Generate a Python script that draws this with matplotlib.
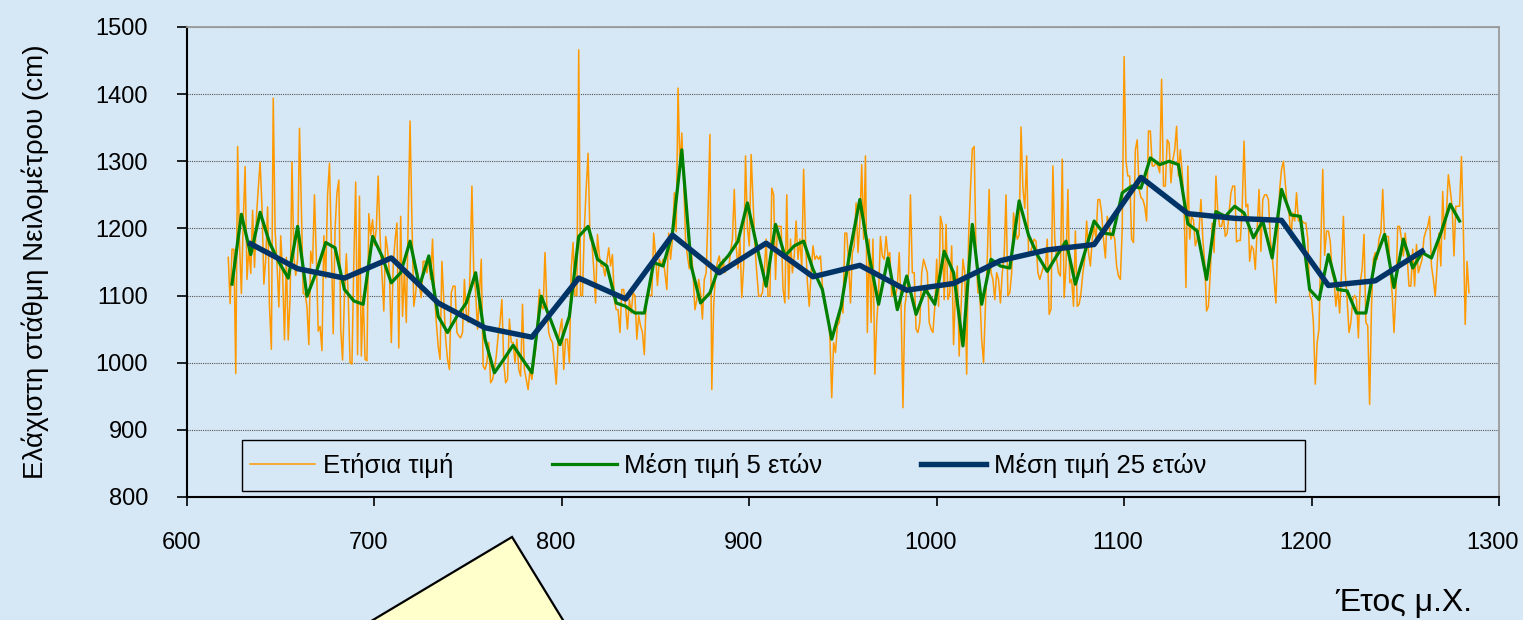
import numpy as np
import matplotlib
matplotlib.use('Agg')
import matplotlib.pyplot as plt
import matplotlib.transforms as mtransforms
from matplotlib.patches import Polygon, Rectangle

plt.rcParams['font.family'] = ['Liberation Sans', 'DejaVu Sans']

# annual minimum level of the Nile at Roda, 622-1284 (cm)
annual = [
    1157, 1088, 1169, 1169, 984, 1322, 1178, 1103,                      # 622-629
    1211, 1292, 1124, 1171, 1133, 1227, 1142, 1216, 1259, 1299,         # 630s
    1232, 1117, 1155, 1232, 1083, 1020, 1394, 1196, 1148, 1083,         # 640s
    1189, 1133, 1034, 1157, 1034, 1097, 1299, 1157, 1130, 1155,         # 650s
    1349, 1232, 1103, 1103, 1083, 1027, 1166, 1148, 1250, 1155,         # 660s
    1047, 1054, 1018, 1189, 1126, 1250, 1297, 1178, 1043, 1200,         # 670s
    1253, 1272, 1050, 1004, 1100, 1162, 1100, 1000, 998, 1150,          # 680s
    1269, 1012, 1248, 1010, 1100, 1005, 1003, 1222, 1190, 1213,         # 690s
    1175, 1200, 1278, 1188, 1134, 1077, 1188, 1169, 1134, 1030,         # 700s
    1144, 1183, 1208, 1022, 1218, 1069, 1139, 1060, 1213, 1360,         # 710s
    1213, 1084, 1104, 1134, 1114, 1097, 1151, 1151, 1134, 1156,         # 720s
    1124, 1184, 1104, 1060, 1025, 1005, 1151, 1094, 1035, 1005,         # 730s
    990, 1104, 1114, 1114, 1045, 1040, 1037, 1045, 1124, 1074,          # 740s
    1060, 1134, 1263, 1134, 1104, 1050, 1100, 1154, 995, 990,           # 750s
    1000, 1030, 970, 975, 990, 1010, 1040, 1060, 1094, 1000,            # 760s
    970, 975, 1065, 1030, 1030, 1000, 1035, 990, 980, 1087,             # 770s
    990, 975, 960, 990, 975, 1000, 1020, 1060, 1109, 1085,              # 780s
    1080, 1164, 1085, 1045, 1035, 1030, 1000, 968, 1030, 1050,          # 790s
    1065, 990, 1035, 1035, 1000, 1140, 1179, 1100, 1100, 1466,          # 800s
    1100, 1100, 1200, 1260, 1312, 1185, 1180, 1140, 1089, 1191,         # 810s
    1159, 1144, 1144, 1129, 1150, 1171, 1144, 1161, 1094, 1079,         # 820s
    1079, 1045, 1109, 1109, 1084, 1050, 1094, 1074, 1104, 1100,         # 830s
    1035, 1070, 1055, 1045, 1012, 1094, 1104, 1100, 1100, 1193,         # 840s
    1159, 1115, 1154, 1144, 1154, 1134, 1109, 1193, 1154, 1184,         # 850s
    1253, 1195, 1409, 1290, 1342, 1270, 1184, 1159, 1140, 1170,         # 860s
    1134, 1079, 1094, 1124, 1104, 1065, 1124, 1134, 1223, 1340,         # 870s
    960, 1084, 1134, 1149, 1159, 1134, 1154, 1134, 1144, 1140,          # 880s
    1165, 1184, 1258, 1174, 1140, 1184, 1097, 1144, 1308, 1200,         # 890s
    1174, 1310, 1240, 1174, 1134, 1099, 1099, 1104, 1134, 1184,         # 900s
    1099, 1099, 1260, 1250, 1124, 1203, 1203, 1203, 1110, 1089,         # 910s
    1250, 1095, 1184, 1134, 1159, 1211, 1154, 1184, 1140, 1288,         # 920s
    1184, 1120, 1084, 1134, 1174, 1154, 1159, 1154, 1159, 1115,         # 930s
    1090, 1075, 1070, 1040, 948, 1030, 1015, 1055, 1060, 1090,          # 940s
    1074, 1193, 1193, 1150, 1089, 1164, 1174, 1238, 1164, 1209,         # 950s
    1295, 1184, 1308, 1045, 1184, 1060, 1184, 983, 1060, 1104,          # 960s
    1188, 1159, 1154, 1188, 1159, 1164, 1099, 1114, 1099, 1114,         # 970s
    1164, 1084, 933, 1084, 1104, 1134, 1250, 1134, 1134, 1050,          # 980s
    1045, 1060, 1134, 1154, 1144, 1134, 1060, 1050, 1045, 1084,         # 990s
    1154, 1084, 1218, 1205, 1094, 1206, 1094, 1104, 1174, 1027,         # 1000s
    1104, 1144, 1010, 1084, 1154, 1134, 983, 1184, 1258, 1318,          # 1010s
    1322, 1160, 1104, 1104, 1035, 1000, 1084, 1154, 1258, 1134,         # 1020s
    1124, 1094, 1134, 1124, 1089, 1134, 1159, 1250, 1100, 1104,         # 1030s
    1134, 1223, 1199, 1184, 1190, 1351, 1260, 1230, 1308, 1164,         # 1040s
    1164, 1174, 1184, 1181, 1134, 1124, 1134, 1144, 1139, 1184,         # 1050s
    1072, 1080, 1293, 1184, 1154, 1134, 1129, 1303, 1097, 1144,         # 1060s
    1258, 1119, 1124, 1084, 1196, 1084, 1087, 1104, 1134, 1154,         # 1070s
    1211, 1164, 1144, 1184, 1203, 1184, 1243, 1243, 1223, 1184,         # 1080s
    1156, 1218, 1203, 1184, 1194, 1184, 1144, 1129, 1124, 1200,         # 1090s
    1456, 1300, 1278, 1278, 1184, 1179, 1317, 1332, 1258, 1246,         # 1100s
    1243, 1233, 1211, 1345, 1345, 1293, 1293, 1298, 1293, 1283,         # 1110s
    1422, 1263, 1263, 1332, 1327, 1268, 1302, 1317, 1352, 1278,         # 1120s
    1317, 1283, 1233, 1112, 1293, 1184, 1218, 1213, 1174, 1184,         # 1130s
    1198, 1243, 1184, 1150, 1077, 1084, 1134, 1208, 1164, 1278,         # 1140s
    1223, 1203, 1203, 1218, 1188, 1193, 1223, 1253, 1263, 1263,         # 1150s
    1180, 1182, 1182, 1230, 1330, 1232, 1236, 1151, 1174, 1169,         # 1160s
    1139, 1200, 1258, 1166, 1243, 1250, 1250, 1243, 1184, 1159,         # 1170s
    1126, 1089, 1184, 1258, 1288, 1300, 1268, 1233, 1223, 1186,         # 1180s
    1223, 1211, 1253, 1211, 1213, 1211, 1208, 1208, 1184, 1100,         # 1190s
    1094, 1060, 968, 1030, 1050, 1180, 1288, 1160, 1196, 1196,          # 1200s
    1180, 1134, 1124, 1084, 1110, 1074, 1134, 1218, 1134, 1094,         # 1210s
    1045, 1060, 1094, 1100, 1094, 1037, 1120, 1139, 1191, 1060,         # 1220s
    1055, 938, 1084, 1154, 1164, 1154, 1184, 1194, 1258, 1184,          # 1230s
    1188, 1188, 1134, 1104, 1045, 1104, 1203, 1203, 1184, 1159,         # 1240s
    1193, 1159, 1114, 1114, 1169, 1114, 1176, 1134, 1144, 1154,         # 1250s
    1186, 1196, 1203, 1218, 1144, 1124, 1099, 1144, 1193, 1144,         # 1260s
    1255, 1184, 1223, 1280, 1258, 1233, 1159, 1233, 1233, 1233,         # 1270s
    1307, 1200, 1057, 1151, 1104,                                       # 1280-1284
]
years = np.arange(622, 622 + len(annual))

# 5-year means, plotted at block centres 624, 629, ... 1279
mean5 = [
    1117, 1221, 1161, 1224, 1179, 1150, 1126, 1203, 1099, 1135,
    1179, 1171, 1109, 1092, 1087, 1188, 1159, 1119, 1134, 1181,
    1114, 1159, 1069, 1045, 1069, 1089, 1134, 1035, 985, 1005,
    1026, 1005, 985, 1099, 1064, 1027, 1069, 1188, 1203, 1154,
    1144, 1089, 1084, 1074, 1074, 1149, 1144, 1193, 1317, 1144,
    1089, 1104, 1144, 1160, 1181, 1238, 1174, 1114, 1206, 1159,
    1174, 1181, 1139, 1109, 1035, 1084, 1170, 1243, 1159, 1087,
    1156, 1079, 1129, 1072, 1109, 1087, 1166, 1134, 1025, 1206,
    1087, 1154, 1144, 1141, 1241, 1190, 1159, 1136, 1159, 1181,
    1117, 1164, 1211, 1193, 1191, 1253, 1263, 1260, 1305, 1295,
    1300, 1295, 1207, 1196, 1124, 1225, 1218, 1233, 1223, 1186,
    1211, 1156, 1258, 1220, 1218, 1109, 1094, 1161, 1109, 1107,
    1074, 1074, 1154, 1191, 1112, 1184, 1141, 1164, 1156, 1193,
    1236, 1211,
]
years5 = np.arange(624, 624 + 5 * len(mean5), 5)

# 25-year means, centres 634, 659, ... 1259
mean25 = [
    1177, 1140, 1126, 1156, 1089, 1052, 1038, 1126, 1095, 1190,
    1134, 1178, 1128, 1145, 1108, 1118, 1152, 1168, 1176, 1276,
    1222, 1215, 1212, 1115, 1122, 1166,
]
years25 = np.arange(634, 634 + 25 * len(mean25), 25)

labels = ['Ετήσια τιμή', 'Μέση τιμή 5 ετών', 'Μέση τιμή 25 ετών']

bg = '#D6E7F5'
fig = plt.figure(figsize=(15.23, 6.2), dpi=100, facecolor=bg)
ax = fig.add_axes([0.1228, 0.1984, 0.8614, 0.7581])
ax.set_facecolor(bg)

ax.plot(years, annual, color='#FF9900', lw=1.1, label=labels[0], zorder=3)
ax.plot(years5, mean5, color='#008000', lw=2.3, label=labels[1], zorder=4)
ax.plot(years25, mean25, color='#003366', lw=3.9, label=labels[2], zorder=5)

ax.set_xlim(600, 1300)
ax.set_ylim(800, 1500)
ax.set_xticks(range(600, 1301, 100))
ax.set_yticks(range(800, 1501, 100))
ax.yaxis.grid(True, linestyle=(0, (1, 1)), color='#555555', lw=0.8, zorder=1)
ax.set_axisbelow(True)

for side in ['left', 'bottom']:
    ax.spines[side].set_color('black')
    ax.spines[side].set_linewidth(1.5)
for side in ['top', 'right']:
    ax.spines[side].set_color('#9a9a9a')
    ax.spines[side].set_linewidth(1.3)

ax.tick_params(axis='y', direction='out', length=7, width=1.2, pad=21, labelsize=17)
ax.tick_params(axis='x', direction='out', length=6.5, width=1.2, pad=19, labelsize=17)

# year labels sit a few pixels left of their ticks
shift = mtransforms.ScaledTranslation(-0.06, 0, fig.dpi_scale_trans)
for lbl in ax.get_xticklabels():
    lbl.set_transform(lbl.get_transform() + shift)

# legend box drawn separately so it can be wider than its entries
ax.add_patch(Rectangle((0.0419, 0.0128), 0.8101, 0.1085, transform=ax.transAxes,
                       facecolor='none', edgecolor='black', lw=1.0, zorder=6))
ax.legend(loc='center left', bbox_to_anchor=(0.048, 0.067), ncol=3, frameon=False,
          fontsize=18.5, handlelength=2.52, handletextpad=0.31, columnspacing=3.84,
          borderpad=0, borderaxespad=0)

fig.text(0.023, 0.5774, 'Ελάχιστη στάθμη Νειλομέτρου (cm)', rotation=90,
         ha='center', va='center', fontsize=20)
fig.text(0.9665, 0.027, 'Έτος μ.Χ.', ha='right', va='center', fontsize=23)

# yellow callout pointing up under the axis
fig.add_artist(Polygon([(0.3362, 0.1339), (0.1569, -0.129), (0.4018, -0.129)],
                       closed=True, transform=fig.transFigure,
                       facecolor='#FFFFCC', edgecolor='black', lw=1.6))

fig.savefig('out.png', dpi=100, facecolor=fig.get_facecolor())
